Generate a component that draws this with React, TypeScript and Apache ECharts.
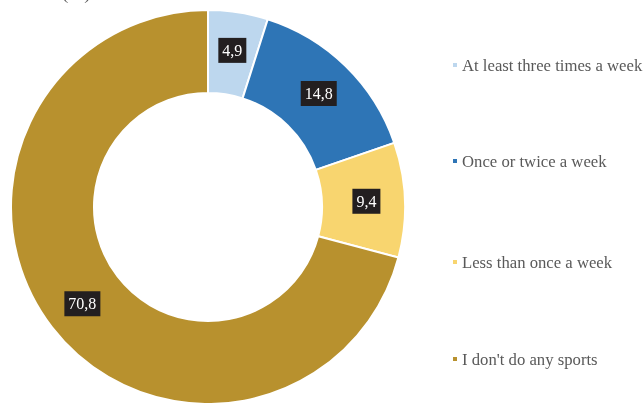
import React, { useEffect, useRef } from "react";
import * as echarts from "echarts";

const categories = [
  "At least three times a week",
  "Once or twice a week",
  "Less than once a week",
  "I don't do any sports",
];
const values = [4.9, 14.8, 9.4, 70.8];
const colors = ["#BDD7EE", "#2E75B6", "#F8D56F", "#B8912E"];
const legendCenters = [65, 161, 262, 359];

const FONT = "'Liberation Serif', 'Times New Roman', serif";

export default function App() {
  const ref = useRef<HTMLDivElement>(null);
  useEffect(() => {
    if (!ref.current) return;
    const chart = echarts.init(ref.current, undefined, { renderer: "svg" });
    chart.setOption({
      animation: false,
      graphic: [
        {
          type: "text",
          left: 62,
          top: -17,
          style: { text: "(%)", font: `19px ${FONT}`, fill: "#595959" },
        },
      ],
      legend: categories.map((c, i) => ({
        data: [c],
        orient: "vertical",
        left: 451,
        top: legendCenters[i] - 9,
        padding: 0,
        icon: "rect",
        itemWidth: 6,
        itemHeight: 6,
        selectedMode: false,
        textStyle: {
          fontFamily: FONT,
          fontSize: 16.7,
          color: "#595959",
          lineHeight: 18,
          padding: [0, 0, 0, -1],
        },
      })),
      series: [
        {
          type: "pie",
          center: [208, 207],
          radius: [114, 197],
          startAngle: 90,
          clockwise: true,
          avoidLabelOverlap: false,
          itemStyle: { borderColor: "#ffffff", borderWidth: 2 },
          label: {
            show: true,
            position: "inside",
            formatter: (p: any) => String(p.value).replace(".", ","),
            color: "#ffffff",
            fontFamily: FONT,
            fontSize: 16,
            backgroundColor: "#231F20",
            padding: [5, 4, 4, 4],
          },
          labelLine: { show: false },
          emphasis: { disabled: true },
          data: categories.map((c, i) => ({
            name: c,
            value: values[i],
            itemStyle: { color: colors[i] },
          })),
        },
      ],
    });
    return () => chart.dispose();
  }, []);
  return (
    <div
      ref={ref}
      style={{ position: "fixed", left: 0, top: 0, width: 644, height: 403 }}
    />
  );
}
